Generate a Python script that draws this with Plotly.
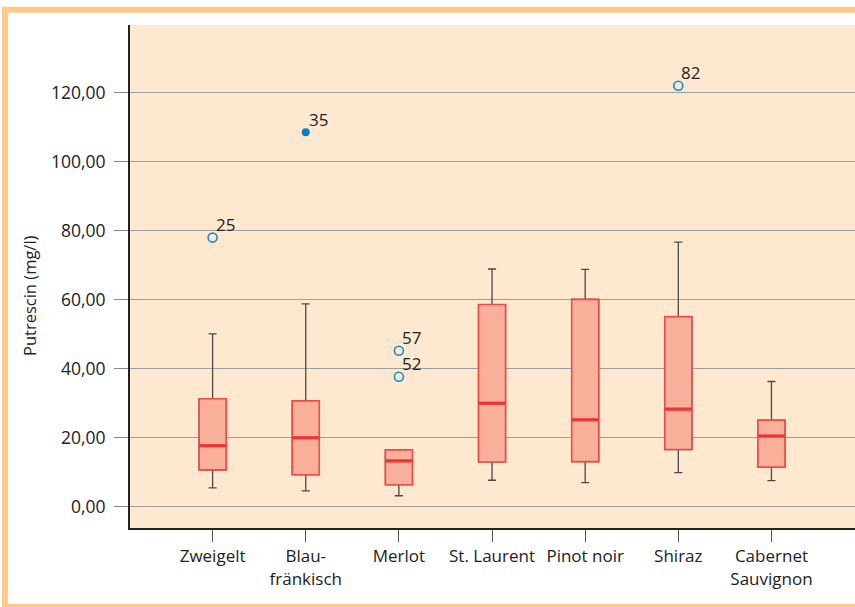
import plotly.graph_objects as go

# ---- data ----
categories = ["Zweigelt", "Blau-<br>fränkisch", "Merlot", "St. Laurent",
              "Pinot noir", "Shiraz", "Cabernet<br>Sauvignon"]
q1 = [10.7, 9.3, 6.4, 13.0, 13.1, 16.6, 11.5]
median = [17.7, 20.0, 13.3, 30.0, 25.2, 28.3, 20.5]
q3 = [31.3, 30.7, 16.5, 58.6, 60.1, 55.1, 25.1]
lower_whisker = [5.5, 4.6, 3.2, 7.7, 7.0, 9.9, 7.6]
upper_whisker = [50.1, 58.8, 16.5, 68.9, 68.8, 76.7, 36.3]

# outliers: (category index, value, case label)
outlier_cat = [0, 2, 2, 5]
outlier_val = [78.0, 45.2, 37.7, 122.0]
outlier_lbl = ["25", "57", "52", "82"]
extreme_cat = [1]
extreme_val = [108.5]
extreme_lbl = ["35"]

y_ticks = [0, 20, 40, 60, 80, 100, 120]

# ---- styling ----
FONT = "Open Sans"
BOX_W = 0.29
pos = list(range(len(categories)))

fig = go.Figure()

# whiskers (dark) drawn first
fig.add_trace(go.Box(
    x=pos, q1=q1, median=median, q3=q3,
    lowerfence=lower_whisker, upperfence=upper_whisker,
    width=BOX_W, whiskerwidth=0.3, boxpoints=False,
    line=dict(color="#4a4a4a", width=1.3),
    fillcolor="rgba(0,0,0,0)", showlegend=False, hoverinfo="skip"))

# red boxes on top
fig.add_trace(go.Box(
    x=pos, q1=q1, median=median, q3=q3,
    lowerfence=q1, upperfence=q3,
    width=BOX_W, whiskerwidth=0, boxpoints=False,
    line=dict(color="#ef4b48", width=1.6),
    fillcolor="#f9b09a", showlegend=False, hoverinfo="skip"))

# thick medians
mx, my = [], []
for i, m in zip(pos, median):
    mx += [i - BOX_W / 2, i + BOX_W / 2, None]
    my += [m, m, None]
fig.add_trace(go.Scatter(x=mx, y=my, mode="lines",
                         line=dict(color="#e8363a", width=3.3),
                         showlegend=False, hoverinfo="skip"))

# outliers
fig.add_trace(go.Scatter(
    x=outlier_cat, y=outlier_val, mode="markers",
    marker=dict(symbol="circle-open", size=9, color="#1a8cc4",
                line=dict(width=1.6, color="#1a8cc4")),
    showlegend=False, hoverinfo="skip", cliponaxis=False))
fig.add_trace(go.Scatter(
    x=extreme_cat, y=extreme_val, mode="markers",
    marker=dict(symbol="circle", size=8, color="#0b7fb8"),
    showlegend=False, hoverinfo="skip", cliponaxis=False))

W, H = 855, 607
L, R, T, B = 130, 0, 25, 79
pw, ph = W - L - R, H - T - B

def px_x(p):
    return (p - L) / pw

def px_y(p):
    return (H - B - p) / ph

annotations = [dict(text="Putrescin (mg/l)", xref="paper", yref="paper",
                    x=px_x(29), y=px_y(296), xanchor="center", yanchor="middle",
                    textangle=-90, showarrow=False,
                    font=dict(family=FONT, size=16.5, color="#222"))]
for c, v, t in zip(outlier_cat + extreme_cat, outlier_val + extreme_val,
                   outlier_lbl + extreme_lbl):
    annotations.append(dict(text=t, x=c, y=v, xref="x", yref="y",
                            xanchor="left", yanchor="middle",
                            xshift=1, yshift=13, showarrow=False,
                            font=dict(family=FONT, size=17, color="#222")))

fig.update_layout(
    width=W, height=H,
    margin=dict(l=L, r=R, t=T, b=B),
    paper_bgcolor="white", plot_bgcolor="#fee9d0",
    separators=",.",
    font=dict(family=FONT, size=16, color="#222"),
    boxmode="overlay",
    xaxis=dict(range=[-0.887, 6.897], tickvals=pos, ticktext=categories,
               showgrid=False, zeroline=False,
               showline=True, linecolor="#222", linewidth=2,
               ticks="outside", ticklen=12, tickcolor="#555", tickwidth=1,
               tickfont=dict(family=FONT, size=17, color="#222")),
    yaxis=dict(range=[-6.14, 139.6], tickvals=y_ticks, tickformat=".2f",
               showgrid=True, gridcolor="#9e9e9e", gridwidth=1.3,
               zeroline=False,
               showline=True, linecolor="#222", linewidth=2,
               ticks="outside", ticklen=14, tickcolor="#888", tickwidth=1.3,
               ticklabelstandoff=5,
               tickfont=dict(family=FONT, size=17.5, color="#222")),
    annotations=annotations,
    shapes=[dict(type="rect", xref="paper", yref="paper", layer="above",
                 x0=px_x(5), x1=px_x(880), y0=px_y(607), y1=px_y(9.7),
                 line=dict(color="#ffc98a", width=6))],
)

fig.write_html("out.html",
               config={"displayModeBar": False},
               post_script="document.body.style.margin='0';"
                           "document.body.style.overflow='hidden';")
